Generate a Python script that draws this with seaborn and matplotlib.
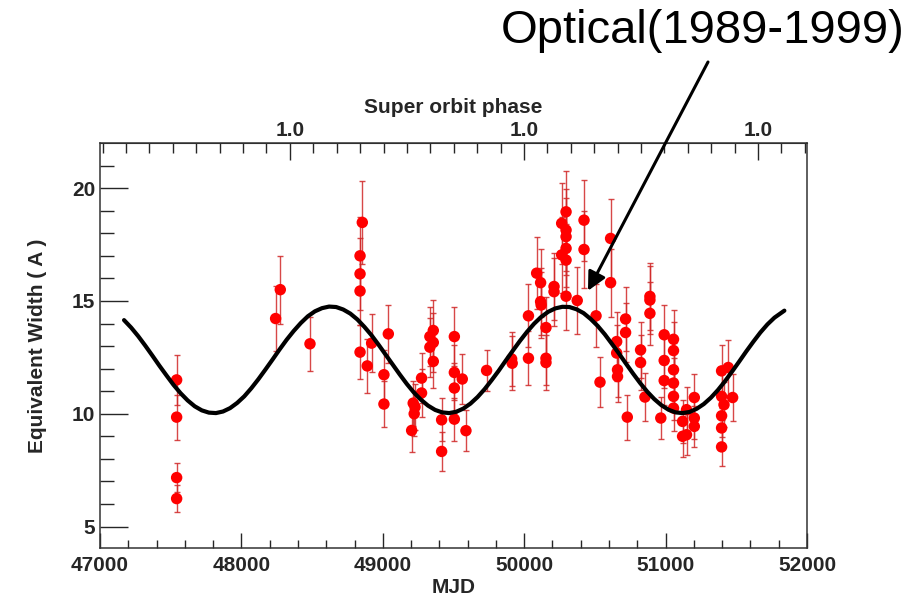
import numpy as np
import pandas as pd
import matplotlib
matplotlib.use("Agg")
import matplotlib.pyplot as plt
import seaborn as sns

# ---- data ----
mjd = [47542, 47542, 47542, 47542, 48242, 48275, 48485,
       48855, 48839, 48839, 48839, 48839, 48890, 48921, 49039, 49008, 49008,
       49204, 49215, 49222, 49228, 49274, 49274, 49333, 49333, 49357, 49357, 49357,
       49416, 49416, 49506, 49506, 49506, 49506, 49562, 49588, 49734,
       49911, 49915, 50030, 50030, 50088, 50116, 50116, 50120, 50154, 50154, 50154,
       50211, 50211, 50265, 50265, 50296, 50296, 50296, 50296, 50296, 50296,
       50375, 50423, 50423, 50508, 50536, 50611, 50611,
       50654, 50654, 50660, 50660, 50717, 50717, 50729, 50823, 50823, 50854,
       50889, 50889, 50889, 50966, 50990, 50990, 50990,
       51056, 51056, 51056, 51056, 51056, 51056, 51120, 51120, 51148, 51148,
       51203, 51203, 51203, 51396, 51396, 51396, 51396, 51396, 51443, 51413, 51474]
ew = [11.5, 9.85, 7.17, 6.24, 14.22, 15.5, 13.1,
      18.48, 17.0, 16.2, 15.44, 12.73, 12.12, 13.13, 13.54, 11.73, 10.43,
      9.26, 10.47, 10.0, 10.3, 11.58, 10.92, 13.42, 12.95, 13.69, 13.16, 12.32,
      9.73, 8.33, 13.42, 11.83, 11.14, 9.76, 11.54, 9.25, 11.92,
      12.43, 12.24, 14.34, 12.46, 16.23, 15.81, 14.97, 14.82, 13.82, 12.46, 12.27,
      15.64, 15.41, 18.44, 17.04, 18.95, 18.14, 17.85, 17.33, 16.81, 15.21,
      15.02, 18.58, 17.28, 14.34, 11.4, 17.77, 15.81,
      13.2, 12.69, 11.95, 11.65, 14.2, 13.6, 9.85, 12.83, 12.27, 10.74,
      15.04, 14.45, 15.2, 9.81, 13.5, 12.36, 11.47,
      13.3, 12.8, 11.95, 11.36, 10.77, 10.25, 9.66, 9.0, 10.18, 9.07,
      10.72, 9.81, 9.44, 11.9, 10.77, 9.91, 9.37, 8.53, 12.05, 10.4, 10.72]
err = [1.1, 1.0, 0.65, 0.6, 1.45, 1.5, 1.2,
       1.85, 1.7, 1.6, 1.5, 1.2, 1.2, 1.3, 1.3, 1.1, 1.0,
       0.95, 1.0, 1.0, 1.0, 1.1, 1.05, 1.3, 1.3, 1.35, 1.3, 1.2,
       0.95, 0.85, 1.3, 1.2, 1.1, 0.95, 1.1, 0.9, 0.9,
       1.2, 1.2, 1.4, 1.2, 1.6, 1.5, 1.5, 1.45, 1.35, 1.2, 1.2,
       1.5, 1.5, 1.8, 1.7, 1.8, 1.8, 1.7, 1.7, 1.6, 1.5,
       1.5, 1.8, 1.7, 1.4, 1.1, 1.75, 1.5,
       1.3, 1.25, 1.2, 1.15, 1.4, 1.3, 1.0, 1.25, 1.2, 1.05,
       1.5, 1.4, 1.5, 0.95, 1.3, 1.2, 1.1,
       1.3, 1.25, 1.2, 1.1, 1.05, 1.0, 0.95, 0.9, 1.0, 0.9,
       1.05, 0.95, 0.9, 1.15, 1.05, 0.95, 0.9, 0.85, 1.2, 1.0, 1.05]

# model curve (every 50 days)
curve_mjd = list(range(47170, 51771, 50)) + [51840]
curve_ew = [14.15, 13.82, 13.44, 13.02, 12.58, 12.13, 11.70, 11.28, 10.91, 10.59,
            10.33, 10.15, 10.05, 10.03, 10.10, 10.25, 10.48, 10.77, 11.13, 11.53,
            11.96, 12.40, 12.85, 13.28, 13.67, 14.02, 14.32, 14.54, 14.68, 14.75,
            14.73, 14.62, 14.44, 14.18, 13.85, 13.48, 13.06, 12.62, 12.18, 11.74,
            11.32, 10.94, 10.62, 10.36, 10.17, 10.06, 10.03, 10.09, 10.23, 10.45,
            10.74, 11.09, 11.49, 11.91, 12.36, 12.80, 13.23, 13.63, 13.99, 14.29,
            14.52, 14.67, 14.74, 14.73, 14.63, 14.46, 14.20, 13.89, 13.52, 13.10,
            12.67, 12.22, 11.78, 11.36, 10.98, 10.65, 10.38, 10.18, 10.06, 10.03,
            10.08, 10.22, 10.43, 10.71, 11.05, 11.44, 11.87, 12.31, 12.76, 13.19,
            13.60, 13.96, 14.26, 14.57]

phase_major_mjd = [48343, 49998, 51653]
phase_major_labels = ["1.0", "1.0", "1.0"]
phase_period = 1655.0

xticks = [47000, 48000, 49000, 50000, 51000, 52000]
yticks = [5, 10, 15, 20]

# ---- plotting ----
sns.set_style("ticks")
plt.rcParams['font.family'] = ['Liberation Sans', 'DejaVu Sans']

fig = plt.figure(figsize=(9.2, 6.01), dpi=100)
ax = fig.add_axes([100/920, 1-548/601, 707/920, 405/601])

df = pd.DataFrame({"MJD": mjd, "EW": ew, "err": err})
ax.errorbar(df["MJD"], df["EW"], yerr=df["err"], fmt="none", ecolor="#d02828",
            elinewidth=1.0, capsize=2, capthick=1.0, alpha=0.85, zorder=2)
sns.scatterplot(data=df, x="MJD", y="EW", color="#ff0000", s=68, edgecolor="none",
                ax=ax, zorder=3, legend=False)
cdf = pd.DataFrame({"MJD": curve_mjd, "EW": curve_ew})
sns.lineplot(data=cdf, x="MJD", y="EW", color="black", lw=3.0, ax=ax, zorder=4,
             sort=False, solid_joinstyle="round", solid_capstyle="round")

ax.set_xlim(47000, 52000)
ax.set_ylim(4.05, 22.0)
ax.set_xticks(xticks)
ax.set_xticks(np.arange(47000, 52001, 200), minor=True)
ax.set_yticks(yticks)
ax.set_yticks(np.arange(5, 22, 1), minor=True)
ax.set_xticklabels([str(v) for v in xticks], fontsize=15, fontweight="bold")
ax.set_yticklabels([str(v) for v in yticks], fontsize=15, fontweight="bold")
ax.tick_params(axis="x", which="major", direction="in", length=11, width=1, pad=6,
               top=False)
ax.tick_params(axis="x", which="minor", direction="in", length=6, width=1, top=False)
ax.tick_params(axis="y", which="major", direction="in", length=20, width=1, right=False)
ax.tick_params(axis="y", which="minor", direction="in", length=10, width=1, right=False)
ax.set_xlabel("MJD", fontsize=15, fontweight="bold", labelpad=2)
ax.set_ylabel("Equivalent Width ( A )", fontsize=15, fontweight="bold", labelpad=18)
for s in ax.spines.values():
    s.set_linewidth(1.1)
    s.set_color("#333333")

sec = ax.secondary_xaxis("top")
sec.set_xticks(phase_major_mjd)
sec.set_xticklabels(phase_major_labels, fontsize=15, fontweight="bold")
minor_top = [phase_major_mjd[0] + phase_period * k / 10.0 for k in range(-9, 46)]
minor_top = [m for m in minor_top if 47000 < m < 52000]
sec.set_xticks(minor_top, minor=True)
sec.tick_params(axis="x", which="major", direction="in", length=12, width=1, pad=2)
sec.tick_params(axis="x", which="minor", direction="in", length=7, width=1)
sec.set_xlabel("Super orbit phase", fontsize=15, fontweight="bold", labelpad=6)

fig.text(905/920, 1-31/601, "Optical(1989-1999)", fontsize=34, ha="right",
         va="center", color="black")
ax.annotate("", xy=(50451, 15.45), xycoords="data",
            xytext=(708, 601-62), textcoords="figure pixels",
            arrowprops=dict(arrowstyle="-|>", lw=2.2, color="black",
                            mutation_scale=28, shrinkA=0, shrinkB=0))

fig.savefig("out.png", dpi=100)
